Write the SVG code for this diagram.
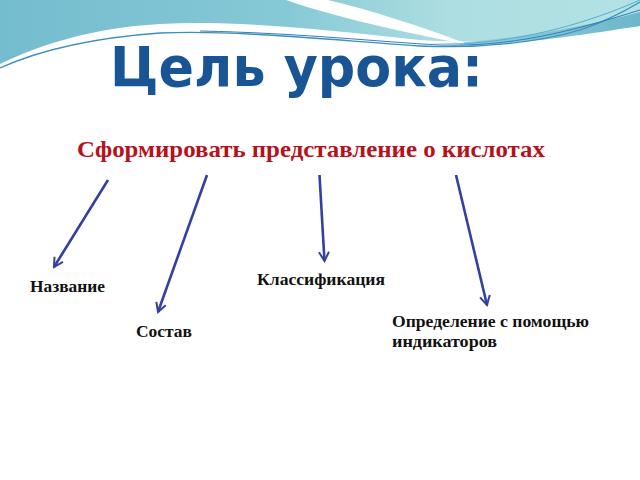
<svg xmlns="http://www.w3.org/2000/svg" width="640" height="480" viewBox="0 0 640 480">
<defs>
<linearGradient id="teal" x1="0" y1="0" x2="1" y2="0">
<stop offset="0" stop-color="#74bccf"/>
<stop offset="0.45" stop-color="#86c9d6"/>
<stop offset="0.7" stop-color="#addee1"/>
<stop offset="1" stop-color="#b4e2e4"/>
</linearGradient>
<linearGradient id="band" x1="0" y1="0" x2="1" y2="0">
<stop offset="0" stop-color="#9fd3dc"/>
<stop offset="1" stop-color="#6db6cb"/>
</linearGradient>
<marker id="arr" viewBox="0 0 12 12" refX="10" refY="6" markerWidth="12" markerHeight="12" markerUnits="userSpaceOnUse" orient="auto">
<path d="M1,1 L10,6 L1,11" fill="none" stroke="#3240a0" stroke-width="2"/>
</marker>
<style>
.conn{fill:none;stroke:#3240a0;stroke-width:2.6;marker-end:url(#arr)}
.lbl{font-family:"Liberation Serif","Times New Roman",serif;font-weight:bold;font-size:17px;fill:#111}
</style>
</defs>
<rect width="640" height="480" fill="#ffffff"/>
<g id="header">
<path d="M0,0 H640 V26 C620,28 600,31 580,34 C540,40 480,44 420,40 C330,30 240,20 160,24 C90,28 40,45 0,64 Z" fill="url(#teal)"/>
<path d="M430,44 C500,42 570,30 640,12 V26 C600,32 540,42 480,45 Z" fill="url(#band)"/>
<path d="M286,0 C320,12 380,28 470,45 C420,26 370,10 328,0 Z" fill="#ffffff"/>
<path d="M0,68 C40,50 90,38 160,33 C240,30 330,40 420,46 C480,49 540,42 580,30 C610,20 630,8 640,2" fill="none" stroke="#3a8fc0" stroke-width="1.3"/>
<path d="M200,31 C300,33 380,42 440,45 C510,47 570,32 640,10" fill="none" stroke="#2f7fbf" stroke-width="1"/>
<path d="M460,44 C530,40 590,22 640,0" fill="none" stroke="#4fb0cf" stroke-width="1"/>
</g>
<g id="title">
<text x="110" y="86" font-family="DejaVu Sans, Verdana, sans-serif" font-weight="bold" font-size="55" fill="#195594" textLength="373" lengthAdjust="spacingAndGlyphs">Цель урока:</text>
</g>
<g id="subtitle">
<text x="77" y="157" font-family="Liberation Serif, Times New Roman, serif" font-weight="bold" font-size="23" fill="#b5121b" textLength="468" lengthAdjust="spacingAndGlyphs">Сформировать представление о кислотах</text>
</g>
<g id="connectors">
<line class="conn" x1="108" y1="180" x2="54" y2="267"/>
<line class="conn" x1="207" y1="175" x2="158" y2="312"/>
<line class="conn" x1="319.5" y1="175" x2="324.5" y2="261"/>
<line class="conn" x1="456" y1="175" x2="487" y2="305"/>
</g>
<g id="node-nazvanie">
<text class="lbl" x="30" y="292" textLength="75" lengthAdjust="spacingAndGlyphs">Название</text>
</g>
<g id="node-sostav">
<text class="lbl" x="136" y="337" textLength="56" lengthAdjust="spacingAndGlyphs">Состав</text>
</g>
<g id="node-klassifikaciya">
<text class="lbl" x="257" y="285" textLength="128" lengthAdjust="spacingAndGlyphs">Классификация</text>
</g>
<g id="node-opredelenie">
<text class="lbl" x="392" y="327" textLength="197" lengthAdjust="spacingAndGlyphs">Определение с помощью</text>
<text class="lbl" x="392" y="347" textLength="105" lengthAdjust="spacingAndGlyphs">индикаторов</text>
</g>
</svg>
